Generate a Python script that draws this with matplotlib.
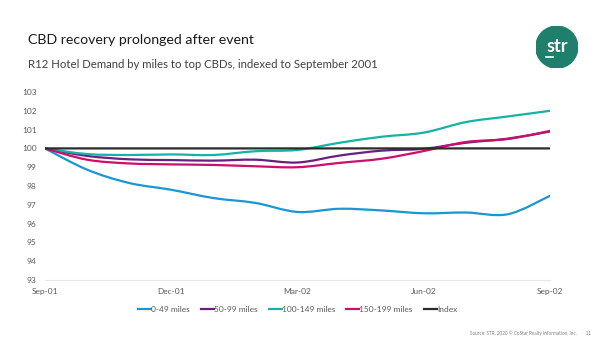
import matplotlib
matplotlib.use("Agg")
import matplotlib.pyplot as plt
from matplotlib.path import Path
from matplotlib.patches import PathPatch, Circle
from matplotlib.lines import Line2D
import numpy as np

plt.rcParams['font.family'] = ['Lato', 'DejaVu Sans']

months = ["Sep-01", "Oct-01", "Nov-01", "Dec-01", "Jan-02", "Feb-02", "Mar-02",
          "Apr-02", "May-02", "Jun-02", "Jul-02", "Aug-02", "Sep-02"]
tick_labels = ["Sep-01", "Dec-01", "Mar-02", "Jun-02", "Sep-02"]

miles_0_49 = [100.0, 98.87, 98.16, 97.8, 97.36, 97.1, 96.62, 96.79, 96.7, 96.55, 96.59, 96.5, 97.48]
miles_50_99 = [100.0, 99.6, 99.42, 99.38, 99.35, 99.4, 99.25, 99.62, 99.88, 99.98, 100.3, 100.52, 100.9]
miles_100_149 = [100.0, 99.7, 99.65, 99.68, 99.65, 99.85, 99.92, 100.3, 100.62, 100.84, 101.4, 101.7, 102.0]
miles_150_199 = [100.0, 99.4, 99.2, 99.15, 99.12, 99.05, 99.0, 99.23, 99.45, 99.86, 100.34, 100.5, 100.93]
index_line = [100.0] * len(months)

series = [
    ("0-49 miles", miles_0_49, "#1a96d4"),
    ("50-99 miles", miles_50_99, "#6b1f7c"),
    ("100-149 miles", miles_100_149, "#14b3a3"),
    ("150-199 miles", miles_150_199, "#cc0e6c"),
    ("Index", index_line, "#2b2b2b"),
]


def smooth_path(x, y):
    # Excel-style smoothed line: cubic Bezier segments through every point
    pts = np.column_stack([x, y]).astype(float)
    n = len(pts)
    verts = [pts[0]]
    codes = [Path.MOVETO]
    for i in range(n - 1):
        p_prev = pts[i - 1] if i > 0 else pts[i]
        p_next2 = pts[i + 2] if i + 2 < n else pts[i + 1]
        c1 = pts[i] + (pts[i + 1] - p_prev) / 6
        c2 = pts[i + 1] - (p_next2 - pts[i]) / 6
        verts += [c1, c2, pts[i + 1]]
        codes += [Path.CURVE4] * 3
    return Path(verts, codes)


fig = plt.figure(figsize=(6, 3.39), dpi=100)
ax = fig.add_axes([0.075, 0.174, 0.8417, 0.5546])

x = np.arange(len(months))
handles = []
for label, vals, color in series:
    patch = PathPatch(smooth_path(x, vals), facecolor="none", edgecolor=color,
                      lw=1.6, capstyle="round", joinstyle="round")
    ax.add_patch(patch)
    handles.append(Line2D([], [], color=color, lw=1.6, label=label))

ax.set_xlim(0, len(months) - 1)
ax.set_ylim(93, 103)
ax.set_yticks(range(93, 104))
ax.set_xticks([months.index(m) for m in tick_labels])
ax.set_xticklabels(tick_labels)
ax.tick_params(length=0, labelsize=6, labelcolor="#595959", pad=6)
for side in ["top", "right", "left"]:
    ax.spines[side].set_visible(False)
ax.spines["bottom"].set_color("#e6e6e6")
ax.spines["bottom"].set_linewidth(0.8)

ax.legend(handles=handles, loc="upper center", bbox_to_anchor=(0.5, -0.1),
          ncol=5, frameon=False, fontsize=6, handlelength=1.6,
          handletextpad=0.0, columnspacing=1.3, labelcolor="#595959")

fig.text(0.047, 0.882, "CBD recovery prolonged after event", fontsize=10.2,
         color="#1a1a1a", va="center")
fig.text(0.047, 0.811, "R12 Hotel Demand by miles to top CBDs, indexed to September 2001",
         fontsize=8.2, color="#404040", va="center")
fig.text(0.985, 0.018, "Source: STR. 2020 \u00a9 CoStar Realty Information, Inc.        11",
         fontsize=3.3, color="#808080", ha="right", va="center")

# logo badge
logo = fig.add_axes([0.893, 0.799, 0.07, 0.1239])
logo.set_xlim(-1, 1)
logo.set_ylim(-1, 1)
logo.set_aspect("equal")
logo.axis("off")
logo.add_patch(Circle((0, 0), 1, color="#1e7f6c"))
logo.text(0.0, 0.05, "str", color="white", fontsize=13, ha="center", va="center",
          fontweight="bold")
logo.plot([-0.5, -0.2], [-0.45, -0.45], color="white", lw=1.2)

fig.savefig("out.png", dpi=100)
